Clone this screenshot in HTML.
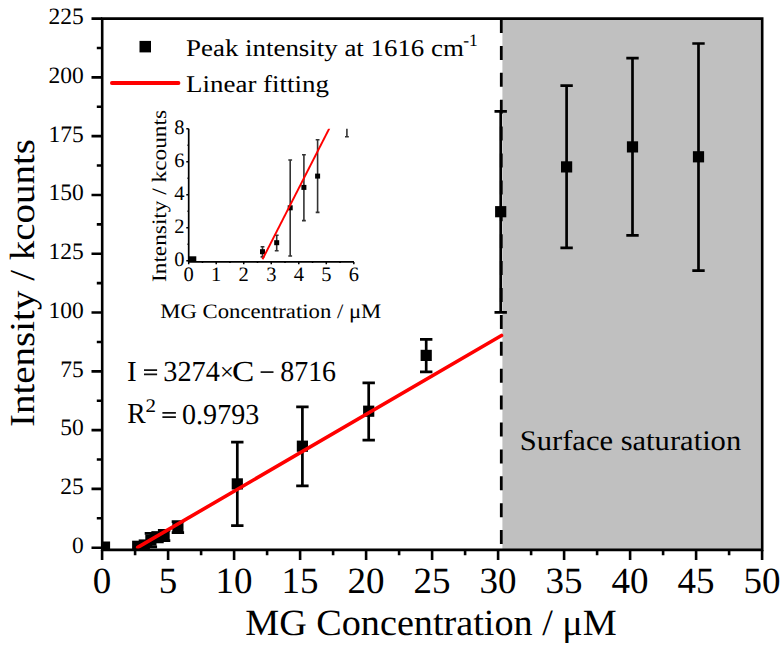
<!DOCTYPE html><html><head><meta charset="utf-8"><style>html,body{margin:0;padding:0;background:#fff;width:784px;height:651px;overflow:hidden}svg{display:block}text{font-family:"Liberation Serif",serif;fill:#000;text-rendering:geometricPrecision}</style></head><body>
<svg width="784" height="651" viewBox="0 0 784 651">
<defs><clipPath id="pc"><rect x="102.2" y="18.6" width="660" height="531.3"/></clipPath><clipPath id="ic"><rect x="188.7" y="128.8" width="166" height="132.8"/></clipPath></defs>
<rect x="502.4" y="18.6" width="259.8" height="531.3" fill="#c0c0c0"/>
<line x1="501.3" y1="19" x2="501.3" y2="549" stroke="#000" stroke-width="2.8" stroke-dasharray="14 12.9"/>
<g clip-path="url(#pc)">
<path d="M150.9 533.3V546.9M144.70000000000002 533.3h12.4M144.70000000000002 546.9h12.4" stroke="#000" stroke-width="2.7" fill="none"/>
<path d="M157.5 532.6V541.9M151.3 532.6h12.4M151.3 541.9h12.4" stroke="#000" stroke-width="2.7" fill="none"/>
<path d="M164.1 530.4V540.7M157.9 530.4h12.4M157.9 540.7h12.4" stroke="#000" stroke-width="2.7" fill="none"/>
<path d="M177.9 521.6V532.6M171.70000000000002 521.6h12.4M171.70000000000002 532.6h12.4" stroke="#000" stroke-width="2.7" fill="none"/>
<path d="M237.3 442.1V525.6M231.10000000000002 442.1h12.4M231.10000000000002 525.6h12.4" stroke="#000" stroke-width="2.7" fill="none"/>
<path d="M302.4 406.9V485.8M296.2 406.9h12.4M296.2 485.8h12.4" stroke="#000" stroke-width="2.7" fill="none"/>
<path d="M368.7 382.9V440.1M362.5 382.9h12.4M362.5 440.1h12.4" stroke="#000" stroke-width="2.7" fill="none"/>
<path d="M426.2 339.3V371.9M420.0 339.3h12.4M420.0 371.9h12.4" stroke="#000" stroke-width="2.7" fill="none"/>
<path d="M500.7 111.3V312.4M494.5 111.3h12.4M494.5 312.4h12.4" stroke="#000" stroke-width="2.7" fill="none"/>
<path d="M566.6 85.7V247.8M560.4 85.7h12.4M560.4 247.8h12.4" stroke="#000" stroke-width="2.7" fill="none"/>
<path d="M632.5 58.2V235.3M626.3 58.2h12.4M626.3 235.3h12.4" stroke="#000" stroke-width="2.7" fill="none"/>
<path d="M698.5 43.5V270.6M692.3 43.5h12.4M692.3 270.6h12.4" stroke="#000" stroke-width="2.7" fill="none"/>
<rect x="132.1" y="540.7" width="11.2" height="11.2" fill="#000"/>
<rect x="138.7" y="539.4" width="11.2" height="11.2" fill="#000"/>
<rect x="145.3" y="534.5" width="11.2" height="11.2" fill="#000"/>
<rect x="151.9" y="531.6" width="11.2" height="11.2" fill="#000"/>
<rect x="158.5" y="530.0" width="11.2" height="11.2" fill="#000"/>
<rect x="172.3" y="521.4" width="11.2" height="11.2" fill="#000"/>
<rect x="231.7" y="478.3" width="11.2" height="11.2" fill="#000"/>
<rect x="296.8" y="440.6" width="11.2" height="11.2" fill="#000"/>
<rect x="363.1" y="405.6" width="11.2" height="11.2" fill="#000"/>
<rect x="420.6" y="349.8" width="11.2" height="11.2" fill="#000"/>
<rect x="495.1" y="206.1" width="11.2" height="11.2" fill="#000"/>
<rect x="561.0" y="161.3" width="11.2" height="11.2" fill="#000"/>
<rect x="626.9" y="141.3" width="11.2" height="11.2" fill="#000"/>
<rect x="692.9" y="151.2" width="11.2" height="11.2" fill="#000"/>
<rect x="102" y="541.5" width="8.1" height="8" fill="#000"/>
<line x1="137.7" y1="547.4" x2="501.5" y2="335.5" stroke="#f00" stroke-width="3.6" stroke-linecap="round"/>
</g>
<path d="M102.2 18.6H762.2V549.9H102.2Z" fill="none" stroke="#000" stroke-width="2.6"/>
<path d="M102.2 547.70H91.5M102.2 518.31H96.8M102.2 488.91H91.5M102.2 459.52H96.8M102.2 430.12H91.5M102.2 400.73H96.8M102.2 371.33H91.5M102.2 341.94H96.8M102.2 312.54H91.5M102.2 283.15H96.8M102.2 253.75H91.5M102.2 224.36H96.8M102.2 194.96H91.5M102.2 165.57H96.8M102.2 136.17H91.5M102.2 106.78H96.8M102.2 77.38H91.5M102.2 47.99H96.8M102.2 18.59H91.5" stroke="#000" stroke-width="2.6" fill="none"/>
<path d="M102.10 549.9V560M135.10 549.9V555.2M168.10 549.9V560M201.10 549.9V555.2M234.10 549.9V560M267.10 549.9V555.2M300.10 549.9V560M333.10 549.9V555.2M366.10 549.9V560M399.10 549.9V555.2M432.10 549.9V560M465.10 549.9V555.2M498.10 549.9V560M531.10 549.9V555.2M564.10 549.9V560M597.10 549.9V555.2M630.10 549.9V560M663.10 549.9V555.2M696.10 549.9V560M729.10 549.9V555.2M762.10 549.9V560" stroke="#000" stroke-width="2.6" fill="none"/>
<text x="83.8" y="553.0" font-size="23.5" text-anchor="end">0</text>
<text x="83.8" y="494.2" font-size="23.5" text-anchor="end">25</text>
<text x="83.8" y="435.4" font-size="23.5" text-anchor="end">50</text>
<text x="83.8" y="376.6" font-size="23.5" text-anchor="end">75</text>
<text x="83.8" y="317.8" font-size="23.5" text-anchor="end">100</text>
<text x="83.8" y="259.1" font-size="23.5" text-anchor="end">125</text>
<text x="83.8" y="200.3" font-size="23.5" text-anchor="end">150</text>
<text x="83.8" y="141.5" font-size="23.5" text-anchor="end">175</text>
<text x="83.8" y="82.7" font-size="23.5" text-anchor="end">200</text>
<text x="83.8" y="23.9" font-size="23.5" text-anchor="end">225</text>
<text x="102.1" y="592.6" font-size="37" text-anchor="middle">0</text>
<text x="168.1" y="592.6" font-size="37" text-anchor="middle">5</text>
<text x="234.1" y="592.6" font-size="37" text-anchor="middle">10</text>
<text x="300.1" y="592.6" font-size="37" text-anchor="middle">15</text>
<text x="366.1" y="592.6" font-size="37" text-anchor="middle">20</text>
<text x="432.1" y="592.6" font-size="37" text-anchor="middle">25</text>
<text x="498.1" y="592.6" font-size="37" text-anchor="middle">30</text>
<text x="564.1" y="592.6" font-size="37" text-anchor="middle">35</text>
<text x="630.1" y="592.6" font-size="37" text-anchor="middle">40</text>
<text x="696.1" y="592.6" font-size="37" text-anchor="middle">45</text>
<text x="762.1" y="592.6" font-size="37" text-anchor="middle">50</text>
<text x="245.2" y="635.2" font-size="37" textLength="371.6" lengthAdjust="spacingAndGlyphs">MG Concentration / μM</text>
<text transform="translate(33.8 427) rotate(-90)" x="0" y="0" font-size="35" textLength="288" lengthAdjust="spacingAndGlyphs">Intensity / kcounts</text>
<rect x="139.5" y="40.9" width="11.5" height="11.5" fill="#000"/>
<text x="186.1" y="55.6" font-size="24" textLength="277.8" lengthAdjust="spacingAndGlyphs">Peak intensity at 1616 cm</text>
<text x="463.3" y="45.8" font-size="17.5">-1</text>
<line x1="111.9" y1="83" x2="178.5" y2="83" stroke="#f00" stroke-width="3.8" stroke-linecap="round"/>
<text x="186.1" y="91.9" font-size="24" textLength="142.8" lengthAdjust="spacingAndGlyphs">Linear fitting</text>
<text x="127.1" y="380.9" font-size="29">I</text>
<path d="M144 370.1H157.1M144 374.3H157.1" stroke="#111" stroke-width="1.7"/>
<text x="163.3" y="381.1" font-size="29" textLength="56.6" lengthAdjust="spacingAndGlyphs">3274</text>
<text x="220.1" y="380.1" font-size="24.5">×</text>
<text x="232.0" y="381.1" font-size="29" textLength="22.3" lengthAdjust="spacingAndGlyphs">C</text>
<path d="M260.6 372.1H273.5" stroke="#111" stroke-width="1.7"/>
<text x="280.2" y="381.1" font-size="29" textLength="55.9" lengthAdjust="spacingAndGlyphs">8716</text>
<text x="127.2" y="423.4" font-size="29" textLength="18.4" lengthAdjust="spacingAndGlyphs">R</text>
<text x="145.6" y="412.2" font-size="19.3" textLength="10.5" lengthAdjust="spacingAndGlyphs">2</text>
<path d="M162.4 412.9H175.9M162.4 417.2H175.9" stroke="#111" stroke-width="1.7"/>
<text x="182.1" y="423.5" font-size="29" textLength="77.1" lengthAdjust="spacingAndGlyphs">0.9793</text>
<text x="519.7" y="450" font-size="28.5" textLength="221.5" lengthAdjust="spacingAndGlyphs">Surface saturation</text>
<path d="M188.7 128.8V261.9M188.7 261.9H354" stroke="#000" stroke-width="1.7" fill="none"/>
<path d="M188.7 260.70h-2.4M188.7 244.21h-1.2M188.7 227.72h-2.4M188.7 211.23h-1.2M188.7 194.74h-2.4M188.7 178.25h-1.2M188.7 161.76h-2.4M188.7 145.27h-1.2M188.7 128.78h-2.4M188.70 261.9v2.4M202.46 261.9v1.2M216.22 261.9v2.4M229.98 261.9v1.2M243.74 261.9v2.4M257.50 261.9v1.2M271.26 261.9v2.4M285.02 261.9v1.2M298.78 261.9v2.4M312.54 261.9v1.2M326.30 261.9v2.4M340.06 261.9v1.2M353.82 261.9v2.4" stroke="#000" stroke-width="1.5" fill="none"/>
<text x="184.4" y="265.5" font-size="20.5" text-anchor="end">0</text>
<text x="184.4" y="232.5" font-size="20.5" text-anchor="end">2</text>
<text x="184.4" y="199.5" font-size="20.5" text-anchor="end">4</text>
<text x="184.4" y="166.6" font-size="20.5" text-anchor="end">6</text>
<text x="184.4" y="133.6" font-size="20.5" text-anchor="end">8</text>
<text x="188.7" y="280.8" font-size="20.5" text-anchor="middle">0</text>
<text x="216.2" y="280.8" font-size="20.5" text-anchor="middle">1</text>
<text x="243.7" y="280.8" font-size="20.5" text-anchor="middle">2</text>
<text x="271.3" y="280.8" font-size="20.5" text-anchor="middle">3</text>
<text x="298.8" y="280.8" font-size="20.5" text-anchor="middle">4</text>
<text x="326.3" y="280.8" font-size="20.5" text-anchor="middle">5</text>
<text x="353.8" y="280.8" font-size="20.5" text-anchor="middle">6</text>
<text x="160.3" y="317.8" font-size="20.5" textLength="221" lengthAdjust="spacingAndGlyphs">MG Concentration / μM</text>
<text transform="translate(166.3 282) rotate(-90)" x="0" y="0" font-size="20.5" textLength="172" lengthAdjust="spacingAndGlyphs">Intensity / kcounts</text>
<g clip-path="url(#ic)">
<path d="M262.5 246.8V256.9M260.6 246.8h3.8M260.6 256.9h3.8" stroke="#333" stroke-width="1.6" fill="none"/>
<path d="M276.7 235.2V250.8M274.8 235.2h3.8M274.8 250.8h3.8" stroke="#333" stroke-width="1.6" fill="none"/>
<path d="M290.2 160.0V256.0M288.3 160.0h3.8M288.3 256.0h3.8" stroke="#333" stroke-width="1.6" fill="none"/>
<path d="M303.9 154.8V220.6M302.0 154.8h3.8M302.0 220.6h3.8" stroke="#333" stroke-width="1.6" fill="none"/>
<path d="M317.6 139.7V212.4M315.70000000000005 139.7h3.8M315.70000000000005 212.4h3.8" stroke="#333" stroke-width="1.6" fill="none"/>
<path d="M346.9 110.0V136.7M345.0 110.0h3.8M345.0 136.7h3.8" stroke="#333" stroke-width="1.6" fill="none"/>
<rect x="260.0" y="249.2" width="5" height="5" fill="#000"/>
<rect x="274.2" y="240.2" width="5" height="5" fill="#000"/>
<rect x="287.7" y="205.3" width="5" height="5" fill="#000"/>
<rect x="301.4" y="184.9" width="5" height="5" fill="#000"/>
<rect x="315.1" y="173.6" width="5" height="5" fill="#000"/>
<rect x="344.4" y="117.5" width="5" height="5" fill="#000"/>
<rect x="188.7" y="256.3" width="7.6" height="5.3" fill="#000"/>
<line x1="262.5" y1="259.3" x2="329.5" y2="128" stroke="#f00" stroke-width="1.9"/>
</g>
</svg></body></html>
